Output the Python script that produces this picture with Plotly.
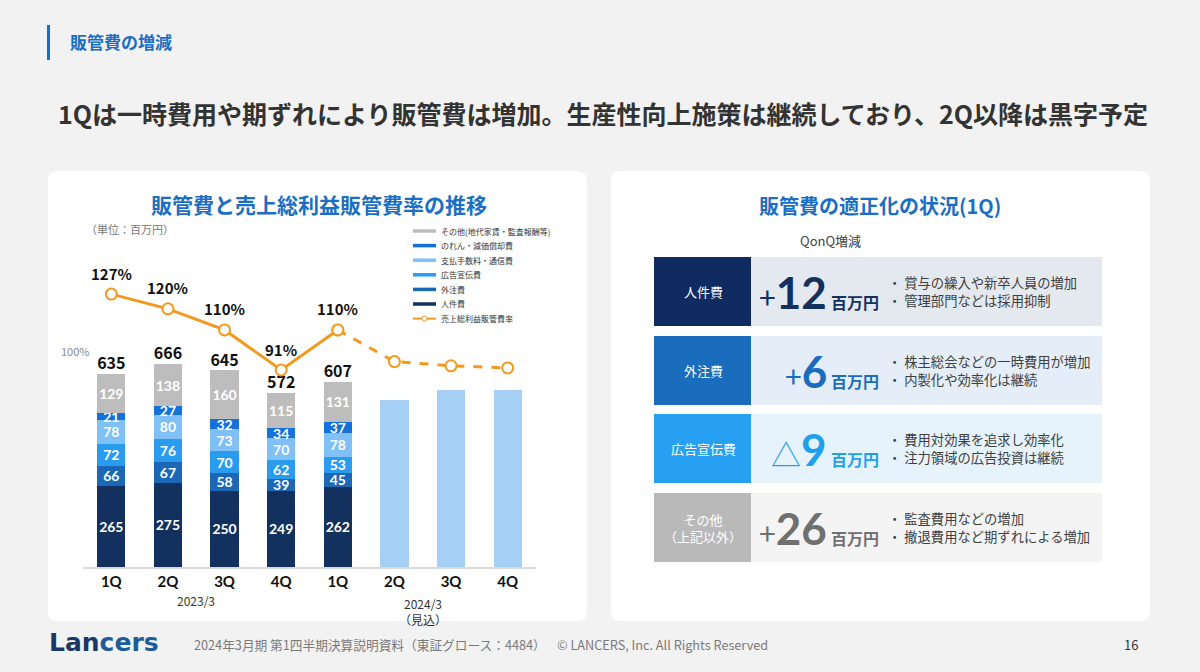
import plotly.graph_objects as go

W, H = 1200, 672
JP = "Noto Sans CJK JP"
NUM = "Lato"

# ---- data ----
quarters = ["1Q", "2Q", "3Q", "4Q", "1Q", "2Q", "3Q", "4Q"]
personnel = [265, 275, 250, 249, 262]
outsourcing = [66, 67, 58, 39, 45]
advertising = [72, 76, 70, 62, 53]
fees = [78, 80, 73, 70, 78]
depreciation = [21, 27, 32, 34, 37]
other = [129, 138, 160, 115, 131]
totals = [635, 666, 645, 572, 607]
forecast = [546, 578, 578]
ratio = [127, 120, 110, 91, 110, 95, 93, 92]

series_names = ["人件費", "外注費", "広告宣伝費", "支払手数料・通信費",
                "のれん・減価償却費", "その他(地代家賃・監査報酬等)"]
series_values = [personnel, outsourcing, advertising, fees, depreciation, other]
series_colors = ["#13315f", "#1c68b6", "#2a9cf0", "#7fc0f6", "#1470da", "#bdbdbd"]
ratio_name = "売上総利益販管費率"

row_labels = ["人件費", "外注費", "広告宣伝費", "その他<br>（上記以外）"]
row_changes = [12, 6, -9, 26]
row_bullets = [
    ["賞与の繰入や新卒人員の増加", "管理部門などは採用抑制"],
    ["株主総会などの一時費用が増加", "内製化や効率化は継続"],
    ["費用対効果を追求し効率化", "注力領域の広告投資は継続"],
    ["監査費用などの増加", "撤退費用など期ずれによる増加"],
]
row_dark = ["#0f2b62", "#1a6cbc", "#27a0f4", "#b9b9b9"]
row_light = ["#e4e8ef", "#e5eef8", "#e6f3fd", "#f4f4f4"]
row_num = ["#13315f", "#1a6cbc", "#1fa0ef", "#707070"]


def px(x):
    return x / W


def py(y):
    return 1 - y / H


def rounded(x0, y0, x1, y1, r):
    pts = [
        ("M", x0 + r, y0), ("L", x1 - r, y0), ("Q", x1, y0, x1, y0 + r),
        ("L", x1, y1 - r), ("Q", x1, y1, x1 - r, y1), ("L", x0 + r, y1),
        ("Q", x0, y1, x0, y1 - r), ("L", x0, y0 + r), ("Q", x0, y0, x0 + r, y0),
    ]
    out = []
    for p in pts:
        cmd, nums = p[0], p[1:]
        coords = []
        for i in range(0, len(nums), 2):
            coords.append(f"{px(nums[i]):.5f},{py(nums[i + 1]):.5f}")
        out.append(cmd + " " + " ".join(coords))
    return " ".join(out) + " Z"


annotations = []
shapes = []


def note(x, y, text, size, color, bold=False, family=JP, xanchor="center",
         yanchor="middle", xref="paper", yref="paper", align="center"):
    annotations.append(dict(
        x=px(x) if xref == "paper" else x,
        y=py(y) if yref == "paper" else y,
        xref=xref, yref=yref, xanchor=xanchor, yanchor=yanchor, align=align,
        text=text, showarrow=False,
        font=dict(family=family, size=size, color=color,
                  weight="bold" if bold else "normal"),
    ))


fig = go.Figure()

# stacked bars
xs = list(range(len(personnel)))
for name, vals, col in zip(series_names, series_values, series_colors):
    fig.add_trace(go.Bar(
        x=xs, y=vals, name=name, marker_color=col, marker_line_width=0,
        text=[str(v) for v in vals], textposition="inside", textangle=0,
        insidetextanchor="middle", constraintext="none",
        textfont=dict(family=NUM, size=14, color="white", weight="bold"),
        showlegend=False,
    ))

fig.add_trace(go.Bar(
    x=list(range(5, 8)), y=forecast, marker_color="#a6cff6",
    marker_line_width=0, showlegend=False, hoverinfo="skip",
))

# totals above bars
fig.add_trace(go.Scatter(
    x=xs, y=totals, mode="text", text=[str(t) for t in totals],
    textposition="top center",
    textfont=dict(family=JP, size=16, color="#111", weight="bold"),
    showlegend=False,
))

# ratio line
orange = "#f39a1e"
fig.add_trace(go.Scatter(
    x=list(range(0, 5)), y=ratio[:5], yaxis="y2", mode="lines+markers",
    line=dict(color=orange, width=3),
    marker=dict(size=11, color="white", line=dict(color=orange, width=2)),
    showlegend=False,
))
fig.add_trace(go.Scatter(
    x=list(range(4, 8)), y=ratio[4:], yaxis="y2", mode="lines+markers",
    line=dict(color=orange, width=3, dash="dash"),
    marker=dict(size=11, color="white", line=dict(color=orange, width=2)),
    showlegend=False,
))

for i in range(5):
    annotations.append(dict(
        x=i, y=ratio[i], xref="x", yref="y2", text=f"{ratio[i]}%",
        showarrow=False, yshift=21, xanchor="center", yanchor="middle",
        font=dict(family=JP, size=15, color="#111", weight="bold"),
    ))

# 100% reference line
shapes.append(dict(type="line", xref="paper", yref="y2", x0=px(92), x1=px(540),
                   y0=100, y1=100, line=dict(color="#d2d2d2", width=1), layer="below"))
annotations.append(dict(x=px(75), y=100, xref="paper", yref="y2", text="100%",
                        showarrow=False, xanchor="center", yanchor="middle",
                        font=dict(family=JP, size=11, color="#8a8a8a")))

# panels
shapes.append(dict(type="path", path=rounded(48, 171, 587, 621, 10), xref="paper", yref="paper",
                   fillcolor="white", line=dict(width=0), layer="below"))
shapes.append(dict(type="path", path=rounded(611, 171, 1150, 621, 10), xref="paper", yref="paper",
                   fillcolor="white", line=dict(width=0), layer="below"))

# header
shapes.append(dict(type="rect", xref="paper", yref="paper", x0=px(47), x1=px(50),
                   y0=py(60), y1=py(25), fillcolor="#1a6fc4", line=dict(width=0)))
note(68, 41, "販管費の増減", 17, "#1a6fc4", bold=True, xanchor="left")
note(603, 113, "1Qは一時費用や期ずれにより販管費は増加。生産性向上施策は継続しており、2Q以降は黒字予定",
     25, "#333333", bold=True)

# left panel texts
note(319, 204, "販管費と売上総利益販管費率の推移", 21, "#1a6fc4", bold=True)
note(84, 229, "（単位：百万円）", 11, "#777777", xanchor="left")
note(1.5, 600, "2023/3", 12, "#333", xref="x")
note(5.5, 593, "2024/3<br>（見込）", 12, "#333", xref="x", yanchor="top")

# custom legend
legend_items = list(zip(series_names[::-1], series_colors[::-1])) + [(ratio_name, orange)]
for k, (name, col) in enumerate(legend_items):
    yy = 231 + k * 14.6
    shapes.append(dict(type="line", xref="paper", yref="paper", x0=px(413), x1=px(436),
                       y0=py(yy), y1=py(yy), line=dict(color=col, width=3.5 if k < 6 else 2)))
    note(439, yy, name, 8, "#333", xanchor="left")
shapes.append(dict(type="circle", xref="paper", yref="paper",
                   x0=px(422), x1=px(427), y0=py(231 + 6 * 14.6 + 2.5), y1=py(231 + 6 * 14.6 - 2.5),
                   fillcolor="white", line=dict(color=orange, width=1)))

# right panel
note(880, 205, "販管費の適正化の状況(1Q)", 20, "#1a6fc4", bold=True)
note(830, 240, "QonQ増減", 13, "#404040")

row_tops = [257, 336, 414, 493]
for k in range(4):
    t = row_tops[k]
    b = t + 69
    c = (t + b) / 2
    shapes.append(dict(type="rect", xref="paper", yref="paper", x0=px(654), x1=px(751),
                       y0=py(b), y1=py(t), fillcolor=row_dark[k], line=dict(width=0), layer="below"))
    shapes.append(dict(type="rect", xref="paper", yref="paper", x0=px(751), x1=px(1102),
                       y0=py(b), y1=py(t), fillcolor=row_light[k], line=dict(width=0), layer="below"))
    note(703, c, row_labels[k], 13, "white")
    v = row_changes[k]
    sign = "+" if v > 0 else "△"
    num_text = (f"<span style='font-size:30px;font-family:{JP}'>{sign}</span>"
                f"<b>{abs(v)}</b>")
    note(829, c, num_text, 44, row_num[k], family=NUM, xanchor="right")
    note(829, c + 10, "百万円", 16, row_num[k], bold=True, xanchor="left")
    for j, line in enumerate(row_bullets[k]):
        note(886, c - 9 + 18 * j, "・ " + line, 13.3, "#404040", xanchor="left")

# footer
note(47, 642, "<span style='color:#1b3768'>Lan</span><span style='color:#1e5b99'>cers</span>",
     25, "#1b3768", bold=True, family="DejaVu Sans", xanchor="left")
note(192, 644, "2024年3月期 第1四半期決算説明資料（東証グロース：4484）", 12.7, "#7a7a7a",
     xanchor="left")
note(555, 644, "© LANCERS, Inc. All Rights Reserved", 12.7, "#7a7a7a", xanchor="left")
note(1140, 644, "16", 13, "#333", xanchor="right")

fig.update_layout(
    width=W, height=H,
    margin=dict(l=0, r=0, t=0, b=0),
    paper_bgcolor="#f2f2f2",
    plot_bgcolor="rgba(0,0,0,0)",
    barmode="stack",
    bargap=0.5,
    showlegend=False,
    shapes=shapes,
    annotations=annotations,
    xaxis=dict(
        domain=[px(83), px(536)], range=[-0.5, 7.5],
        tickvals=list(range(len(quarters))), ticktext=quarters,
        tickfont=dict(family=NUM, size=15, color="#111", weight="bold"),
        showline=True, linecolor="#d9d9d9", linewidth=2,
        showgrid=False, zeroline=False, ticks="",
    ),
    yaxis=dict(
        domain=[py(567), py(250)], range=[0, 1036],
        visible=False, showgrid=False, zeroline=False,
    ),
    yaxis2=dict(
        domain=[py(567), py(250)], range=[-2.4, 147.9], overlaying="y",
        visible=False, showgrid=False, zeroline=False,
    ),
)

fig.write_html("out.html", config={"displayModeBar": False},
               post_script="document.body.style.margin='0';")
